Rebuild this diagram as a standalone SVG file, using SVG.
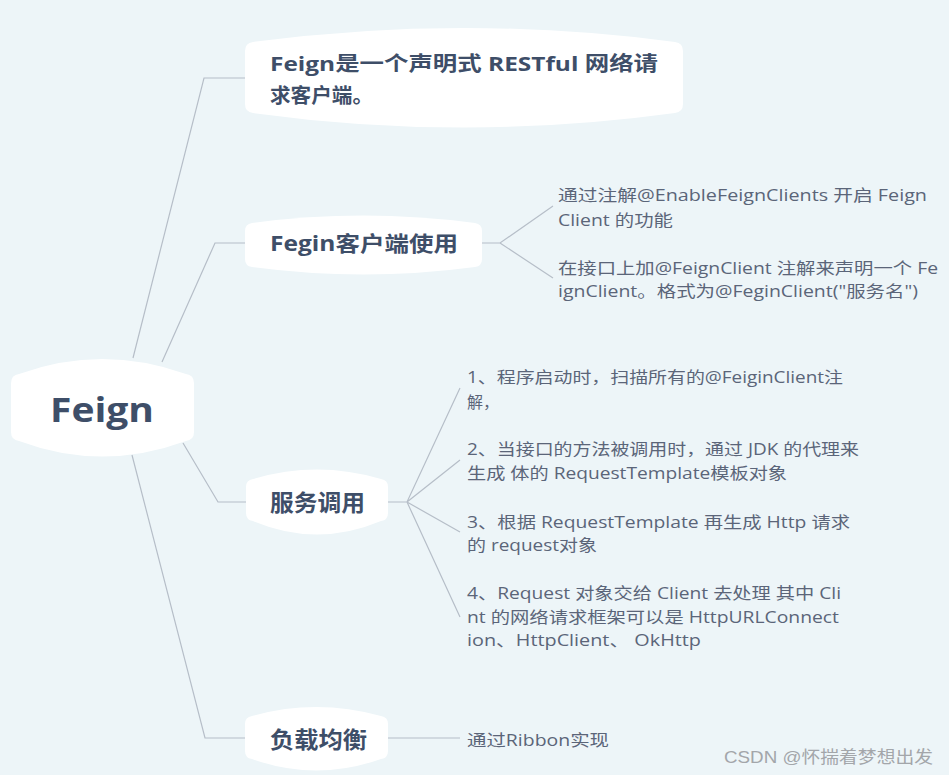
<svg xmlns="http://www.w3.org/2000/svg" width="949" height="775" viewBox="0 0 949 775">
<style>
.bg{fill:#edf5f8}
.node{fill:#ffffff}
.t{font-family:"Open Sans","Noto Sans CJK SC",sans-serif;font-weight:700;fill:#3e4e68}
.leaf{font-family:"Open Sans","Noto Sans CJK SC",sans-serif;font-size:16px;fill:#5b6579}
.wm{font-family:"Liberation Sans","Noto Sans CJK SC",sans-serif;font-size:17px;fill:#a3a6aa}
.ln{fill:none;stroke:#b6bec8;stroke-width:1.2}
</style>
<rect class="bg" x="0" y="0" width="949" height="775"/>
<g id="connectors">
<path class="ln" d="M133,358 L204,78 L245,78"/>
<path class="ln" d="M162,362 L215,243 L245,243"/>
<path class="ln" d="M183,443 L218,502 L246,502"/>
<path class="ln" d="M132,455 L205,738 L245,738"/>
<path class="ln" d="M482,243 L500,243 L553,206 M500,243 L553,278"/>
<path class="ln" d="M388,502 L407,502 L460,388 M407,502 L460,460 M407,502 L460,532 M407,502 L460,617"/>
<path class="ln" d="M388,738 L460,738"/>
</g>
<g id="root">
<path class="node" d="M11,383 Q11,375 19,374 Q102,344 186,374 Q194,375 194,383 L194,432 Q194,440 186,441 Q102,472 19,441 Q11,440 11,432 Z"/>
<text class="t" x="50" y="422" font-size="34" textLength="104" lengthAdjust="spacingAndGlyphs">Feign</text>
</g>
<g id="n1">
<path class="node" d="M245,51 Q245,43 253,42 Q464,14 675,42 Q683,43 683,51 L683,104 Q683,112 675,113 Q464,142 253,113 Q245,112 245,104 Z"/>
<text class="t" x="270" y="71" font-size="20" textLength="388" lengthAdjust="spacingAndGlyphs">Feign是一个声明式 RESTful 网络请</text>
<text class="t" x="270" y="103" font-size="20" textLength="103" lengthAdjust="spacingAndGlyphs">求客户端。</text>
</g>
<g id="n2">
<path class="node" d="M245,231 Q245,224 252,223 Q363,208 475,223 Q482,224 482,231 L482,259 Q482,266 475,267 Q363,282 252,267 Q245,266 245,259 Z"/>
<text class="t" x="270" y="251" font-size="21" textLength="188" lengthAdjust="spacingAndGlyphs">Fegin客户端使用</text>
</g>
<g id="n2a">
<text class="leaf" x="558" y="201" textLength="369" lengthAdjust="spacingAndGlyphs">通过注解@EnableFeignClients 开启 Feign</text>
<text class="leaf" x="558" y="226" textLength="115" lengthAdjust="spacingAndGlyphs">Client 的功能</text>
</g>
<g id="n2b">
<text class="leaf" x="558" y="274" textLength="380" lengthAdjust="spacingAndGlyphs">在接口上加@FeignClient 注解来声明一个 Fe</text>
<text class="leaf" x="558" y="297" textLength="360" lengthAdjust="spacingAndGlyphs">ignClient。格式为@FeginClient("服务名")</text>
</g>
<g id="n3">
<path class="node" d="M246,487 Q246,480 253,479 Q317,460 381,479 Q388,480 388,487 L388,513 Q388,520 381,521 Q317,548 253,521 Q246,520 246,513 Z"/>
<text class="t" x="270" y="511" font-size="23" textLength="95" lengthAdjust="spacingAndGlyphs">服务调用</text>
</g>
<g id="n3a">
<text class="leaf" x="467" y="383" textLength="376" lengthAdjust="spacingAndGlyphs">1、程序启动时，扫描所有的@FeiginClient注</text>
<text class="leaf" x="467" y="408">解，</text>
</g>
<g id="n3b">
<text class="leaf" x="467" y="455" textLength="392" lengthAdjust="spacingAndGlyphs">2、当接口的方法被调用时，通过 JDK 的代理来</text>
<text class="leaf" x="467" y="479" textLength="320" lengthAdjust="spacingAndGlyphs">生成 体的 RequestTemplate模板对象</text>
</g>
<g id="n3c">
<text class="leaf" x="467" y="528" textLength="383" lengthAdjust="spacingAndGlyphs">3、根据 RequestTemplate 再生成 Http 请求</text>
<text class="leaf" x="467" y="551" textLength="130" lengthAdjust="spacingAndGlyphs">的 request对象</text>
</g>
<g id="n3d">
<text class="leaf" x="467" y="599" textLength="374" lengthAdjust="spacingAndGlyphs">4、Request 对象交给 Client 去处理 其中 Cli</text>
<text class="leaf" x="467" y="623" textLength="372" lengthAdjust="spacingAndGlyphs">nt 的网络请求框架可以是 HttpURLConnect</text>
<text class="leaf" x="467" y="646" textLength="234" lengthAdjust="spacingAndGlyphs">ion、HttpClient、 OkHttp</text>
</g>
<g id="n4">
<path class="node" d="M245,724 Q245,717 252,716 Q316,698 381,716 Q388,717 388,724 L388,751 Q388,758 381,759 Q316,782 252,759 Q245,758 245,751 Z"/>
<text class="t" x="270" y="748" font-size="23" textLength="97" lengthAdjust="spacingAndGlyphs">负载均衡</text>
</g>
<g id="n4a">
<text class="leaf" x="467" y="746" textLength="142" lengthAdjust="spacingAndGlyphs">通过Ribbon实现</text>
</g>
<text class="wm" x="724" y="763" textLength="209" lengthAdjust="spacingAndGlyphs">CSDN @怀揣着梦想出发</text>
</svg>
